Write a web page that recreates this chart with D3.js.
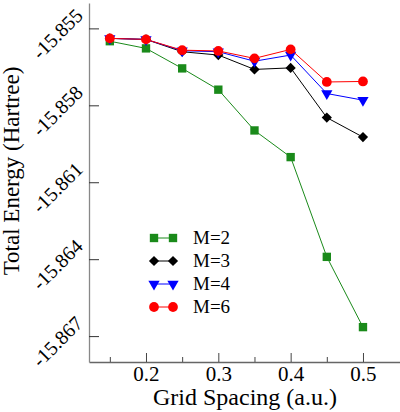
<!DOCTYPE html>
<html><head><meta charset="utf-8">
<script src="https://cdn.jsdelivr.net/npm/d3@7"></script>
<style>body{margin:0;background:#fff}svg{display:block}text{font-family:"Liberation Serif","Times New Roman",serif}</style>
</head><body><svg id="c" width="400" height="412"></svg>
<script>
const gridSpacing = [0.15, 0.2, 0.25, 0.3, 0.35, 0.4, 0.45, 0.5];
const seriesNames = ["M=2", "M=3", "M=4", "M=6"];
const energyM2 = [-15.85550, -15.85578, -15.85656, -15.85739, -15.85898, -15.86002, -15.86391, -15.86665];
const energyM3 = [-15.85539, -15.85543, -15.85591, -15.85604, -15.85660, -15.85654, -15.85848, -15.85924];
const energyM4 = [-15.85539, -15.85543, -15.85587, -15.85591, -15.85628, -15.85604, -15.85754, -15.85780];
const energyM6 = [-15.85539, -15.85543, -15.85585, -15.85588, -15.85617, -15.85582, -15.85709, -15.85707];
const xTicks = [0.2, 0.3, 0.4, 0.5];
const xMinorTicks = [0.15, 0.25, 0.35, 0.45];
const yTicks = [-15.855, -15.858, -15.861, -15.864, -15.867];
const colors = ["#1a8a1a", "#000000", "#0000ff", "#ff0000"];

const svg = d3.select("#c");
const x = d3.scaleLinear().domain([0.1212, 0.5512]).range([89, 400]);
const y = d3.scaleLinear().domain([-15.85401, -15.86801]).range([3, 362]);

// axes
const xMinor = svg.append("g").attr("transform","translate(0,362)")
  .call(d3.axisBottom(x).tickValues(xMinorTicks).tickSize(-5).tickFormat(""));
const xAxis = svg.append("g").attr("transform","translate(0,362)")
  .call(d3.axisBottom(x).tickValues(xTicks).tickSize(-9).tickSizeOuter(0).tickFormat(d => d.toFixed(1)));
xMinor.select(".domain").remove();
xAxis.select(".domain").attr("stroke","#666").attr("stroke-width",1.3);
svg.selectAll("g .tick line").attr("stroke","#444");
xAxis.selectAll("text").attr("y", 4).attr("dy","0.71em").attr("font-size",21).attr("fill","#000");

const yAxis = svg.append("g").attr("transform","translate(89,0)")
  .call(d3.axisLeft(y).tickValues(yTicks).tickSize(-10).tickSizeOuter(0).tickFormat(d => d.toFixed(3)));
yAxis.select(".domain").attr("stroke","#888").attr("stroke-width",1.3);
yAxis.selectAll(".tick line").attr("stroke","#333");
yAxis.selectAll("text").attr("x",null).attr("dy",null)
  .attr("font-size",20).attr("fill","#000").attr("text-anchor","end")
  .attr("transform","translate(-5,-12) rotate(-45)");

// axis titles
svg.append("text").attr("x",245).attr("y",405).attr("text-anchor","middle")
  .attr("font-size",24).text("Grid Spacing (a.u.)");
svg.append("text").attr("transform","translate(19,171) rotate(-90)").attr("text-anchor","middle")
  .attr("font-size",23).text("Total Energy (Hartree)");

const data = [energyM2, energyM3, energyM4, energyM6];
const symbols = [d3.symbolSquare, d3.symbolSquare, d3.symbolTriangle, d3.symbolCircle];
const rots = [0, 45, 180, 0];
const sizes = [70, 52, 55, 75];
const line = d3.line().x((d,i)=>x(gridSpacing[i])).y(d=>y(d));
data.forEach((vals, k) => {
  const g = svg.append("g");
  g.append("path").attr("d", line(vals)).attr("fill","none").attr("stroke",colors[k]).attr("stroke-width",1);
  g.selectAll("path.m").data(vals).join("path").attr("class","m")
    .attr("transform",(d,i)=>`translate(${x(gridSpacing[i])},${y(d)}) rotate(${rots[k]})`)
    .attr("d", d3.symbol().type(symbols[k]).size(sizes[k])).attr("fill",colors[k]);
});

// legend
const leg = svg.append("g");
seriesNames.forEach((name,k) => {
  const cy = 238 + k*23;
  leg.append("line").attr("x1",154).attr("x2",173).attr("y1",cy).attr("y2",cy).attr("stroke",colors[k]);
  [154,173].forEach(cx => leg.append("path")
    .attr("transform",`translate(${cx},${cy}) rotate(${rots[k]})`)
    .attr("d", d3.symbol().type(symbols[k]).size(sizes[k])).attr("fill",colors[k]));
  leg.append("text").attr("x",193).attr("y",cy+6).attr("font-size",19).text(name);
});
</script></body></html>
